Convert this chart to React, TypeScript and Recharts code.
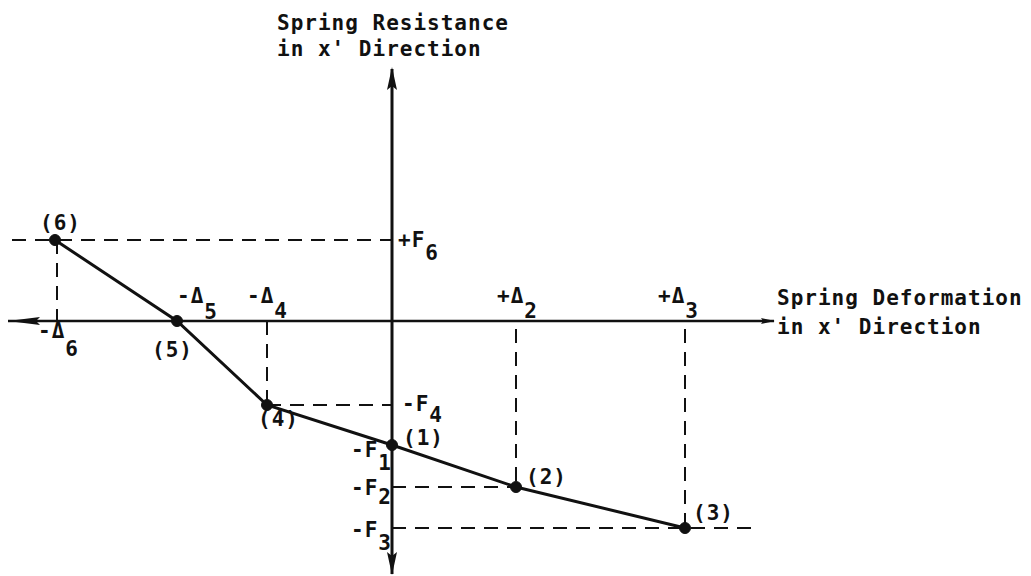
import React from 'react'
import { LineChart, Line, XAxis, YAxis, ReferenceLine, ReferenceDot } from 'recharts'

// spring resistance vs deformation, points in path order (6) -> (3)
const POINT_NAMES = ['(6)', '(5)', '(4)', '(1)', '(2)', '(3)']
const DEFORMATION = [-33.7, -21.5, -12.5, 0, 12.4, 29.3]
const RESISTANCE = [8.1, 0, -8.4, -12.4, -16.6, -20.7]

// axis annotations: [prefix, subscript]
const DELTA_TICKS = [['-Δ', '6'], ['-Δ', '5'], ['-Δ', '4'], ['+Δ', '2'], ['+Δ', '3']]
const DELTA_VALUES = [-33.7, -21.5, -12.5, 12.4, 29.3]
const FORCE_TICKS = [['+F', '6'], ['-F', '4'], ['-F', '1'], ['-F', '2'], ['-F', '3']]
const FORCE_VALUES = [8.1, -8.4, -12.4, -16.6, -20.7]

const Y_TITLE = ['Spring Resistance', "in x' Direction"]
const X_TITLE = ['Spring Deformation', "in x' Direction"]

const X_DOMAIN: [number, number] = [-39.2, 38.8]
const Y_DOMAIN: [number, number] = [-25.5, 26.1]

const INK = '#111'
const FONT = {
  fontFamily: "'DejaVu Sans Mono', monospace",
  fontSize: 21,
  fontWeight: 'bold' as const,
  letterSpacing: 1,
  fill: INK,
}

// label offsets from their anchor, px: [dx, dy, subscript drop]
const DELTA_OFFSETS = [[-17, 17, 18], [0, -18, 16], [-20, -18, 15], [-19, -18, 15], [-27, -18, 15]]
const FORCE_OFFSETS = [[6, 7, 13], [10, 6, 11], [-41, 12, 13], [-41, 8, 9], [-41, 9, 13]]
const POINT_OFFSETS = [[-15, -10], [-25, 36], [-9, 21], [11, 0], [10, -3], [8, -8]]

const DASH = { stroke: INK, strokeWidth: 2, strokeDasharray: '14 9' }

function subLabel(prefix: string, sub: string, dx: number, dy: number, drop: number) {
  return (p: any) => (
    <text x={p.cx + dx} y={p.cy + dy} style={FONT}>
      <tspan>{prefix}</tspan>
      <tspan dy={drop}>{sub}</tspan>
    </text>
  )
}

function plainLabel(lines: string[], dx: number, dy: number, lh: number) {
  return (p: any) => (
    <g>
      {lines.map((t, i) => (
        <text key={i} x={p.cx + dx} y={p.cy + dy + i * lh} style={FONT}>{t}</text>
      ))}
    </g>
  )
}

export default function App() {
  const data = DEFORMATION.map((x, i) => ({ x, y: RESISTANCE[i], name: POINT_NAMES[i] }))
  const [d6, , d4, , d2, d3] = DEFORMATION
  const [f6, , f4, , f2, f3] = RESISTANCE

  return (
    <div style={{ position: 'absolute', left: 0, top: 0, width: 1031, height: 576, background: '#fff' }}>
      <LineChart width={1031} height={576} data={data} margin={{ top: 60, right: 251, bottom: 0, left: 0 }}>
        <XAxis dataKey="x" type="number" domain={X_DOMAIN} allowDataOverflow hide />
        <YAxis type="number" domain={Y_DOMAIN} allowDataOverflow hide />

        {/* projection lines */}
        <ReferenceLine segment={[{ x: -38.0, y: f6 }, { x: 0, y: f6 }]} {...DASH} />
        <ReferenceLine segment={[{ x: d6 + 0.2, y: f6 }, { x: d6 + 0.2, y: 0 }]} {...DASH} />
        <ReferenceLine segment={[{ x: d4, y: 0 }, { x: d4, y: f4 }]} {...DASH} />
        <ReferenceLine segment={[{ x: d4, y: f4 }, { x: 0, y: f4 }]} {...DASH} />
        <ReferenceLine segment={[{ x: d2, y: -0.8 }, { x: d2, y: f2 }]} {...DASH} />
        <ReferenceLine segment={[{ x: 0, y: f2 }, { x: d2, y: f2 }]} {...DASH} />
        <ReferenceLine segment={[{ x: d3, y: -0.8 }, { x: d3, y: f3 }]} {...DASH} />
        <ReferenceLine segment={[{ x: 0, y: f3 }, { x: 36.8, y: f3 }]} {...DASH} />

        {/* axes */}
        <ReferenceLine segment={[{ x: -38.4, y: 0 }, { x: 38.2, y: 0 }]} stroke={INK} strokeWidth={2.5} />
        <ReferenceLine segment={[{ x: 0, y: 25.2 }, { x: 0, y: -25.3 }]} stroke={INK} strokeWidth={3} />
        <ReferenceDot x={0} y={25.4} r={1} shape={(p: any) => (
          <polygon points={`${p.cx},${p.cy} ${p.cx + 5},${p.cy + 23} ${p.cx},${p.cy + 19} ${p.cx - 5},${p.cy + 23}`} fill={INK} />
        )} />
        <ReferenceDot x={0} y={-25.4} r={1} shape={(p: any) => (
          <polygon points={`${p.cx},${p.cy} ${p.cx + 5},${p.cy - 23} ${p.cx},${p.cy - 19} ${p.cx - 5},${p.cy - 23}`} fill={INK} />
        )} />
        <ReferenceDot x={-38.4} y={0} r={1} shape={(p: any) => (
          <polygon points={`${p.cx},${p.cy} ${p.cx + 32},${p.cy - 4} ${p.cx + 28},${p.cy} ${p.cx + 32},${p.cy + 4}`} fill={INK} />
        )} />
        <ReferenceDot x={38.3} y={0} r={1} shape={(p: any) => (
          <polygon points={`${p.cx},${p.cy} ${p.cx - 14},${p.cy - 3} ${p.cx - 12},${p.cy} ${p.cx - 14},${p.cy + 3}`} fill={INK} />
        )} />

        <Line
          dataKey="y"
          stroke={INK}
          strokeWidth={3}
          dot={{ r: 5.5, fill: INK, stroke: INK, strokeWidth: 1 }}
          isAnimationActive={false}
        />

        {/* annotations */}
        {DELTA_TICKS.map(([pre, sub], i) => (
          <ReferenceDot key={'d' + i} x={DELTA_VALUES[i]} y={0} r={1}
            shape={subLabel(pre, sub, DELTA_OFFSETS[i][0], DELTA_OFFSETS[i][1], DELTA_OFFSETS[i][2])} />
        ))}
        {FORCE_TICKS.map(([pre, sub], i) => (
          <ReferenceDot key={'f' + i} x={0} y={FORCE_VALUES[i]} r={1}
            shape={subLabel(pre, sub, FORCE_OFFSETS[i][0], FORCE_OFFSETS[i][1], FORCE_OFFSETS[i][2])} />
        ))}
        {POINT_NAMES.map((n, i) => (
          <ReferenceDot key={'p' + i} x={DEFORMATION[i]} y={RESISTANCE[i]} r={1}
            shape={plainLabel([n], POINT_OFFSETS[i][0], POINT_OFFSETS[i][1], 0)} />
        ))}
        <ReferenceDot x={0} y={25.4} r={1} shape={plainLabel(Y_TITLE, -115, -37, 26)} />
        <ReferenceDot x={38.3} y={0} r={1} shape={plainLabel(X_TITLE, 2, -16, 29)} />
      </LineChart>
    </div>
  )
}
